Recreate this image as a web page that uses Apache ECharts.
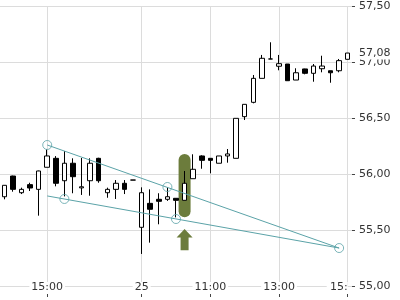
<!DOCTYPE html>
<html><head><meta charset="utf-8">
<script src="https://cdn.jsdelivr.net/npm/echarts@6/dist/echarts.min.js"></script>
<style>html,body{margin:0;padding:0;background:#fff}#c{width:400px;height:300px}</style>
</head><body><div id="c"></div>
<script>
// 15-minute candles, 24th 13:45 .. 25th 15:00
const categories = ['13:45','14:00','14:15','14:30','14:45','15:00','15:15','15:30','15:45','16:00','16:15','16:30','16:45','17:00','17:15','17:30',
  '09:00','09:15','09:30','09:45','10:00','10:15','10:30','10:45','11:00','11:15','11:30','11:45','12:00','12:15','12:30','12:45',
  '13:00','13:15','13:30','13:45','14:00','14:15','14:30','14:45','15:00'];
const opens  = [55.797,55.982,55.833,55.905,55.863,56.060,56.140,55.940,56.096,55.876,55.940,56.140,55.833,55.863,55.917,55.946,
  55.524,55.738,55.774,55.774,55.783,55.765,55.958,56.161,56.140,56.096,56.161,56.140,56.512,56.640,56.854,57.027,
  56.962,56.982,56.839,56.938,56.899,56.940,56.922,56.922,57.024];
const closes = [55.899,55.863,55.863,55.875,56.027,56.161,55.917,56.096,55.976,55.886,56.096,55.940,55.863,55.917,55.863,55.946,
  55.833,55.685,55.756,55.797,55.765,55.917,56.042,56.122,56.122,56.161,56.179,56.497,56.622,56.854,57.033,57.027,
  56.985,56.833,56.904,56.899,56.964,56.964,56.904,57.012,57.080];
const lows   = [55.774,55.842,55.821,55.848,55.628,56.060,55.890,55.800,55.828,55.813,55.806,55.922,55.788,55.777,55.821,55.946,
  55.286,55.387,55.551,55.760,55.613,55.765,55.958,56.047,56.006,56.096,56.101,56.140,56.482,56.631,56.854,57.027,
  56.926,56.833,56.839,56.890,56.824,56.908,56.815,56.908,57.024];
const highs  = [55.900,55.985,55.878,55.922,56.030,56.220,56.160,56.205,56.140,56.143,56.140,56.145,55.878,55.946,55.946,55.946,
  55.881,55.863,55.828,55.881,55.783,56.027,56.176,56.167,56.140,56.161,56.223,56.497,56.622,56.884,57.063,57.176,
  57.063,56.982,56.944,56.940,56.982,57.056,56.922,57.027,57.080];
const xTickIdx  = [5,16,24,32,40];
const xTickText = ['15:00','25','11:00','13:00','15:00'];
const yTicks = [55.0,55.5,56.0,56.5,57.0,57.5];
// trend lines (index, price)
const upperLine = [[5,56.259],[39,55.339]];
const lowerLine = [[5,55.804],[39,55.339]];
const anchorIdx = [5,7,19,20,39];
const anchorVal = [56.259,55.777,55.884,55.598,55.339];
// highlighted candle
const highlightIdx = [21];
const highlightLow = [55.613];
const highlightHigh = [56.179];
const arrowTop = [55.510];
const arrowBottom = [55.320];

const teal = '#5ba3a8';
const green = '#6c7c3c';
const font = 'DejaVu Sans';
const showIdx = (i) => xTickIdx.indexOf(i) >= 0;
const fmt = v => v.toFixed(2).replace('.', ',');
const lastIdx = categories.length - 1;
// the last label is cut off at the plot edge in the reference
const xData = categories.map((c, i) => i === lastIdx
  ? {value: c, textStyle: {width: 21, overflow: 'truncate', ellipsis: '', align: 'right', padding: [0, 0]}}
  : c);

const chart = echarts.init(document.getElementById('c'), null, {renderer:'canvas'});
chart.setOption({
  animation: false,
  backgroundColor: '#fff',
  grid: {left: 0, right: 48, top: 6, bottom: 14, containLabel: false},
  xAxis: {
    type: 'category', data: xData, boundaryGap: true, offset: 8, z: 1,
    axisLine: {show: false},
    axisTick: {show: true, alignWithLabel: true, length: 3, interval: (i) => showIdx(i), lineStyle: {color: '#444'}},
    axisLabel: {inside: true, margin: 1, interval: (i) => showIdx(i), fontFamily: font, fontSize: 11, color: '#333',
      backgroundColor: '#fff', padding: [0, 2],
      formatter: (v, i) => xTickText[xTickIdx.indexOf(i)] || ''},
    splitLine: {show: true, alignWithLabel: true, interval: (i) => showIdx(i), lineStyle: {color: '#dcdcdc', width: 1}}
  },
  yAxis: {
    type: 'value', position: 'right', min: yTicks[0], max: yTicks[yTicks.length-1], interval: 0.5, z: 0,
    axisLine: {show: false},
    axisTick: {show: true, length: 3, lineStyle: {color: '#444'}},
    axisLabel: {margin: 7, fontFamily: font, fontSize: 11, color: '#333', formatter: fmt},
    splitLine: {show: true, lineStyle: {color: '#dcdcdc', width: 1}}
  },
  series: [
    {
      type: 'custom', z: 1, silent: true,
      data: highlightIdx.map((x, k) => [x, highlightLow[k], highlightHigh[k]]),
      renderItem: (params, api) => {
        const top = api.coord([api.value(0), api.value(2)]);
        const bot = api.coord([api.value(0), api.value(1)]);
        const w = 12;
        return {type: 'rect', shape: {x: top[0] - w/2, y: top[1], width: w, height: bot[1] - top[1], r: w/2}, style: {fill: green}};
      }
    },
    {
      type: 'custom', z: 1, silent: true,
      data: highlightIdx.map((x, k) => [x, arrowBottom[k], arrowTop[k]]),
      renderItem: (params, api) => {
        const t = api.coord([api.value(0), api.value(2)]);
        const b = api.coord([api.value(0), api.value(1)]);
        const cx = t[0], hw = 8, sw = 4, hh = 8.5;
        return {type: 'polygon', shape: {points: [
          [cx, t[1]], [cx + hw, t[1] + hh], [cx + sw, t[1] + hh], [cx + sw, b[1]],
          [cx - sw, b[1]], [cx - sw, t[1] + hh], [cx - hw, t[1] + hh]
        ]}, style: {fill: green}};
      }
    },
    {
      type: 'candlestick', z: 2, barWidth: 5,
      data: opens.map((o, i) => [o, closes[i], lows[i], highs[i]]),
      itemStyle: {color: '#ffffff', color0: '#000000', borderColor: '#000000', borderColor0: '#000000', borderWidth: 1},
      markLine: {
        silent: true, symbol: 'none', animation: false,
        lineStyle: {color: 'rgba(0,0,0,0)', width: 1},
        label: {position: 'end', distance: 6, color: '#333', fontFamily: font, fontSize: 11,
          backgroundColor: '#fff', padding: [1, 1], formatter: (p) => fmt(p.value)},
        data: [{yAxis: closes[closes.length-1]}]
      }
    },
    {type: 'line', z: 3, data: upperLine, symbol: 'none', lineStyle: {color: teal, width: 1}, silent: true},
    {type: 'line', z: 3, data: lowerLine, symbol: 'none', lineStyle: {color: teal, width: 1}, silent: true},
    {type: 'scatter', z: 4, data: anchorIdx.map((x, k) => [x, anchorVal[k]]), symbol: 'circle', symbolSize: 9,
      itemStyle: {color: 'rgba(0,0,0,0)', borderColor: teal, borderWidth: 1}, silent: true}
  ]
});
</script></body></html>
